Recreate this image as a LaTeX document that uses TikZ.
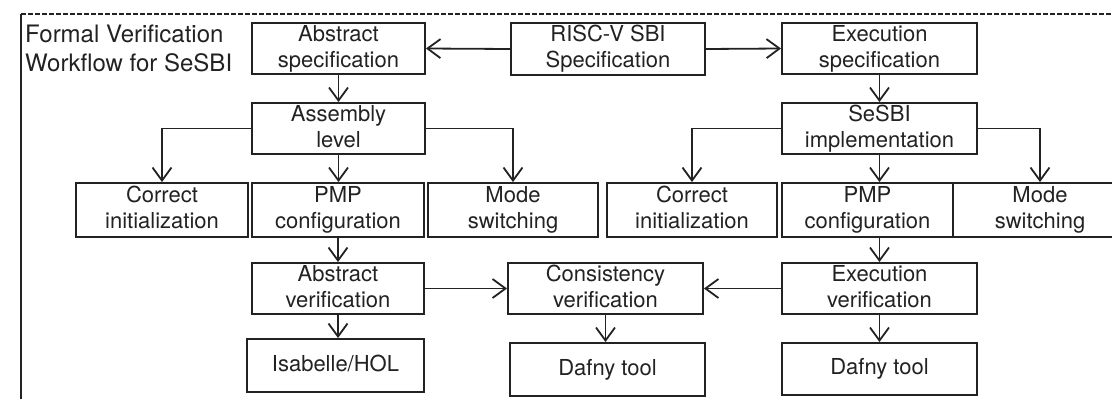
\documentclass[tikz,border=0pt]{standalone}
\usepackage{fontspec}
\setmainfont{TeX Gyre Heros}
\usetikzlibrary{arrows.meta}
% fixed ascent/descent so every box places its lines the same way
\newcommand\lnstrut{\rule[-4.8pt]{0pt}{21.2pt}}
\newcommand\twol[2]{\lnstrut #1\\\lnstrut #2}
\definecolor{ink}{HTML}{222222}
\tikzset{
  box/.style={draw=ink, line width=1.9pt, rectangle, inner sep=0pt,
    align=center, text=ink, font=\fontsize{22}{26}\selectfont},
  flow/.style={draw=ink, line width=1.8pt,
    -{Straight Barb[length=13pt, width=19pt, line width=1.8pt]}},
}
\begin{document}
\begin{tikzpicture}[x=1pt, y=-1pt]
  \useasboundingbox (0,0) rectangle (1112,399);
  \fill[white] (0,0) rectangle (1112,399);
  \clip (0,0) rectangle (1112,399);

  % frame of the workflow panel
  \coordinate (fnw) at (21,14);
  \coordinate (fne) at (1112,14);
  \coordinate (fsw) at (21,399);
  \draw[ink, line width=1.4pt, dash pattern=on 4.5pt off 2.5pt] (fnw) -- (fne);
  \draw[ink, line width=2.2pt] (fnw) -- (fsw);
  \node[anchor=north west, inner sep=0pt, align=left, text=ink,
        font=\fontsize{24}{29}\selectfont] (title) at (25,24.5)
        {Formal Verification\\Workflow for SeSBI};

  % specification level
  \node[box, minimum width=173pt, minimum height=51pt] (absspec) at (338.5,48.5) {\twol{Abstract}{specification}};
  \node[box, minimum width=194pt, minimum height=52pt] (risc) at (608,49) {\twol{RISC-V SBI}{Specification}};
  \node[box, minimum width=195pt, minimum height=51pt] (exespec) at (879.5,48.5) {\twol{Execution}{specification}};

  % implementation level
  \node[box, minimum width=173pt, minimum height=51pt] (asm) at (338.5,128.5) {\twol{Assembly}{level}};
  \node[box, minimum width=195pt, minimum height=51pt] (sesbi) at (879.5,128.5) {\twol{SeSBI}{implementation}};

  % properties
  \node[box, minimum width=172pt, minimum height=54pt] (corrL) at (162,210) {\twol{Correct}{initialization}};
  \node[box, minimum width=172pt, minimum height=54pt] (pmpL) at (338,210) {\twol{PMP}{configuration}};
  \node[box, minimum width=170pt, minimum height=54pt] (modeL) at (513,210) {\twol{Mode}{switching}};
  \node[box, minimum width=170pt, minimum height=54pt] (corrR) at (692,210) {\twol{Correct}{initialization}};
  \node[box, minimum width=171pt, minimum height=54pt] (pmpR) at (867.5,210) {\twol{PMP}{configuration}};
  \node[box, minimum width=174pt, minimum height=54pt] (modeR) at (1040,210) {\twol{Mode}{switching}};

  % verification
  \node[box, minimum width=172pt, minimum height=51pt] (absver) at (338,288.5) {\twol{Abstract}{verification}};
  \node[box, minimum width=195pt, minimum height=51pt] (cons) at (605.5,288.5) {\twol{Consistency}{verification}};
  \node[box, minimum width=195pt, minimum height=51pt] (exever) at (879.5,288.5) {\twol{Execution}{verification}};

  % tools
  \node[box, minimum width=177pt, minimum height=53pt] (isa) at (335.5,365.5) {\lnstrut Isabelle/HOL};
  \node[box, minimum width=195pt, minimum height=53pt] (dafL) at (607.5,369.5) {\lnstrut Dafny tool};
  \node[box, minimum width=195pt, minimum height=52pt] (dafR) at (879.5,369) {\lnstrut Dafny tool};

  % connectors
  \draw[flow] (risc.west) -- (absspec.east);
  \draw[flow] (risc.east) -- (exespec.west);
  \draw[flow] (absspec.south) -- (asm.north);
  \draw[flow] (exespec.south) -- (sesbi.north);
  \draw[flow] (asm.west) -| (corrL.north);
  \draw[flow] (asm.south) -- (asm.south |- pmpL.north);
  \draw[flow] (asm.east) -| (modeL.north);
  \draw[flow] (sesbi.west) -| (corrR.north);
  \draw[flow] (sesbi.south) -- (sesbi.south |- pmpR.north);
  \draw[flow] (sesbi.east) -| (modeR.north);
  \draw[flow] (pmpL.south) -- (pmpL.south |- absver.north);
  \draw[flow] (exever.north |- pmpR.south) -- (exever.north);
  \draw[flow] (absver.east) -- (cons.west);
  \draw[flow] (exever.west) -- (cons.east);
  \draw[flow] (absver.south) -- (absver.south |- isa.north);
  \draw[flow] (cons.south) -- (cons.south |- dafL.north);
  \draw[flow] (exever.south) -- (dafR.north);
\end{tikzpicture}
\end{document}
